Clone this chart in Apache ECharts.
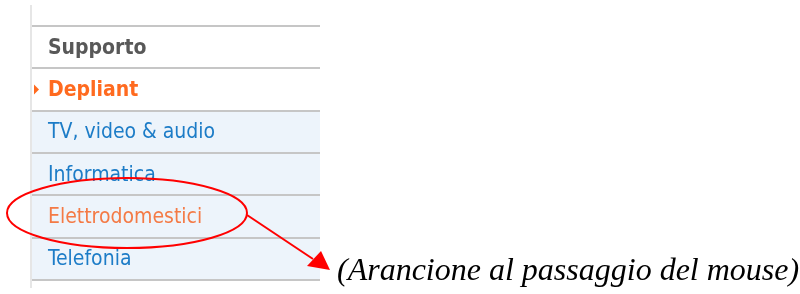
<!DOCTYPE html>
<html><head><meta charset="utf-8">
<script src="https://cdn.jsdelivr.net/npm/echarts@6/dist/echarts.min.js"></script>
<style>html,body{margin:0;padding:0;background:#fff}#c{width:800px;height:294px}</style>
</head><body><div id="c"></div>
<script>
const menuItems = ['Supporto', 'Depliant', 'TV, video & audio', 'Informatica', 'Elettrodomestici', 'Telefonia'];
const itemKinds = ['header', 'active', 'link', 'link', 'hover', 'link'];
const note = '(Arancione al passaggio del mouse)';

const chart = echarts.init(document.getElementById('c'), null, {renderer: 'canvas'});
const top0 = 26, rowH = 42.3, left = 32, right = 320;
const styles = {
  header: {fill: '#585858', fontWeight: 'bold', bg: null},
  active: {fill: '#FF6A1F', fontWeight: 'bold', bg: null},
  link: {fill: '#1C7CC7', fontWeight: 'normal', bg: '#EDF4FB'},
  hover: {fill: '#F47A45', fontWeight: 'normal', bg: '#EDF4FB'}
};
const els = [];
els.push({type: 'line', shape: {x1: 31, y1: 5, x2: 31, y2: 288}, style: {stroke: '#E6E6E6', lineWidth: 2}, z: 1});
menuItems.forEach((name, i) => {
  const y = top0 + i * rowH;
  const st = styles[itemKinds[i]];
  if (st.bg) els.push({type: 'rect', shape: {x: left, y: y, width: right - left, height: rowH}, style: {fill: st.bg}, z: 0});
  els.push({type: 'text', x: 48, y: y + rowH / 2 + 1, style: {text: name, fill: st.fill, fontFamily: 'DejaVu Sans Condensed', fontSize: 21, fontWeight: st.fontWeight, textVerticalAlign: 'middle'}, z: 3});
  if (itemKinds[i] === 'active') {
    els.push({type: 'polygon', shape: {points: [[34, y + rowH/2 - 5], [39, y + rowH/2], [34, y + rowH/2 + 5]]}, style: {fill: '#FF6A1F'}, z: 3});
  }
});
for (let i = 0; i <= menuItems.length; i++) {
  const y = Math.round(top0 + i * rowH);
  els.push({type: 'line', shape: {x1: left, y1: y, x2: right, y2: y}, style: {stroke: '#C6C6C6', lineWidth: 2}, z: 2});
}
els.push({type: 'ellipse', shape: {cx: 127, cy: 213, rx: 120, ry: 35}, style: {fill: 'none', stroke: '#FF0000', lineWidth: 2}, z: 5});
els.push({type: 'line', shape: {x1: 247, y1: 215, x2: 313, y2: 259}, style: {stroke: '#FF0000', lineWidth: 2}, z: 5});
els.push({type: 'polygon', shape: {points: [[307, 266], [321, 251], [330, 270]]}, style: {fill: '#FF0000'}, z: 5});
els.push({type: 'text', x: 337, y: 272, style: {text: note, fill: '#000', fontFamily: 'Liberation Serif', fontStyle: 'italic', fontSize: 32, textVerticalAlign: 'middle'}, z: 5});

chart.setOption({animation: false, graphic: {elements: els}});
</script></body></html>
